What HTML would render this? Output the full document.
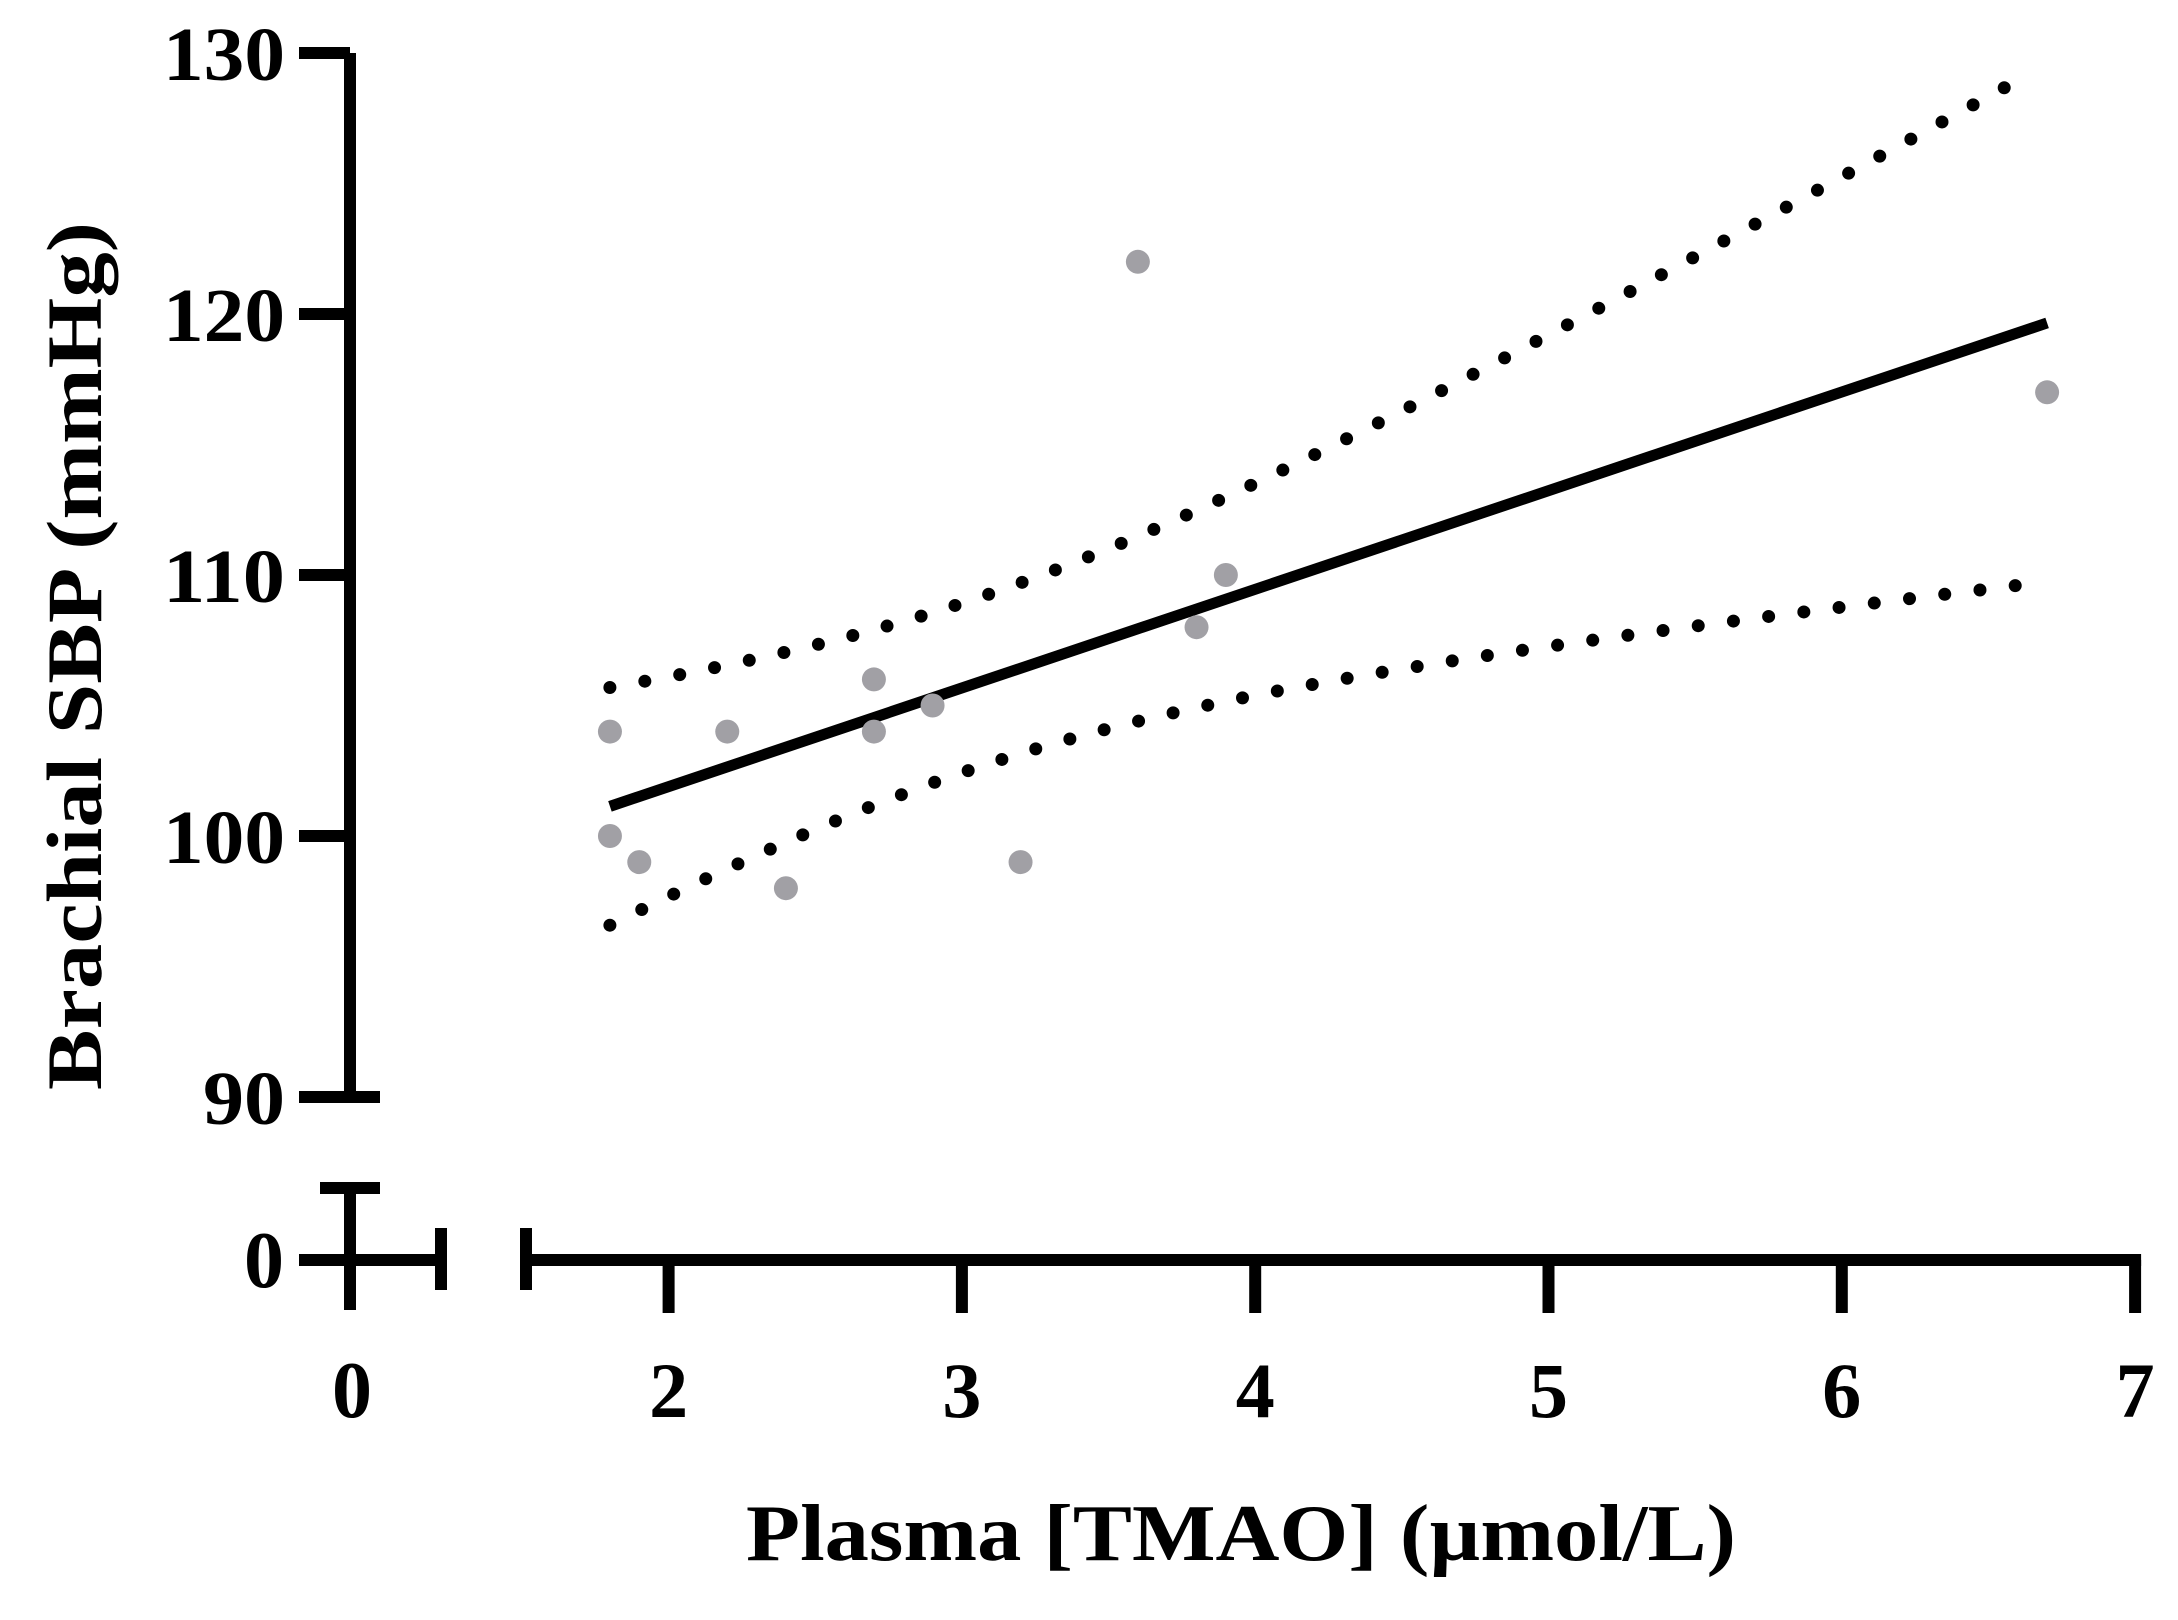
<!DOCTYPE html>
<html><head><meta charset="utf-8"><style>
html,body{margin:0;padding:0;background:#fff;}
svg{display:block;}
text{font-family:"Liberation Serif",serif;font-weight:bold;fill:#000;}
</style></head>
<body>
<svg id="chart" width="2178" height="1620" viewBox="0 0 2178 1620" xmlns="http://www.w3.org/2000/svg">
<g id="axes"></g>
<g id="bands"></g>
<g id="fit"></g>
<g id="pts"></g>
<text transform="translate(101,656) rotate(-90)" text-anchor="middle" font-size="78" textLength="868" lengthAdjust="spacingAndGlyphs">Brachial SBP (mmHg)</text>
<text x="1241" y="1560" text-anchor="middle" font-size="80" textLength="990" lengthAdjust="spacingAndGlyphs">Plasma [TMAO] (µmol/L)</text>
</svg>
<script>
const xValues = [1.8, 1.8, 1.9, 2.2, 2.4, 2.7, 2.7, 2.9, 3.2, 3.6, 3.8, 3.9, 6.7];
const yValues = [104, 100, 99, 104, 98, 106, 104, 105, 99, 122, 108, 110, 117];
const yTicks = [90, 100, 110, 120, 130];
const xTicks = [2, 3, 4, 5, 6, 7];
const fitRange = [1.8, 6.7];
const bandRange = [1.8, 6.6];
const tCrit = 2.201;

const NS = "http://www.w3.org/2000/svg";
function X(v){ return 668.6 + (v - 2) * 293.3; }
function Y(v){ return 836 - (v - 100) * 26.1; }
function mk(tag, attrs, parent){
  const e = document.createElementNS(NS, tag);
  for (const k in attrs) e.setAttribute(k, attrs[k]);
  parent.appendChild(e); return e;
}
const axes = document.getElementById('axes');
const S = {stroke:'#000','stroke-width':12,fill:'none'};
let e = mk('line', Object.assign({x1:350,y1:53,x2:350,y2:Y(90)}, S), axes);
 
yTicks.forEach(v => {
  const t = mk('line', Object.assign({x1:299, y1:Y(v), x2: v===90?380:350, y2:Y(v)}, S), axes);
   
  const attrs = {x:285, y:Y(v)+27, 'text-anchor':'end', 'font-size':76};
  if (String(v).length === 3) { attrs.textLength = 122; attrs.lengthAdjust = 'spacingAndGlyphs'; }
  else { attrs.textLength = 82; attrs.lengthAdjust = 'spacingAndGlyphs'; }
  const l = mk('text', attrs, axes);
  l.textContent = v;
   
});
e = mk('line', Object.assign({x1:320,y1:1188,x2:380,y2:1188}, S), axes);
 
e = mk('line', Object.assign({x1:350,y1:1188,x2:350,y2:1310}, S), axes);
 
e = mk('line', Object.assign({x1:299,y1:1260,x2:441,y2:1260}, S), axes);
 
e = mk('line', Object.assign({x1:441,y1:1228,x2:441,y2:1290}, S), axes);
 
e = mk('line', Object.assign({x1:526,y1:1228,x2:526,y2:1290}, S), axes);
 
e = mk('line', Object.assign({x1:526,y1:1260,x2:X(7)+6,y2:1260}, S), axes);
 
let z = mk('text', {x:284, y:1287, 'text-anchor':'end', 'font-size':80}, axes);
z.textContent = '0';
 
z = mk('text', {x:352, y:1417, 'text-anchor':'middle', 'font-size':80}, axes);
z.textContent = '0';
 
xTicks.forEach(v => {
  const t = mk('line', Object.assign({x1:X(v), y1:1260, x2:X(v), y2:1313}, S), axes);
   
  const l = mk('text', {x:X(v), y:1417, 'text-anchor':'middle', 'font-size':78}, axes);
  l.textContent = v;
   
});
const n = xValues.length;
const mx = xValues.reduce((a,b)=>a+b,0)/n, my = yValues.reduce((a,b)=>a+b,0)/n;
let sxx=0, sxy=0;
for (let i=0;i<n;i++){ sxx += (xValues[i]-mx)**2; sxy += (xValues[i]-mx)*(yValues[i]-my); }
const b = sxy/sxx, a = my - b*mx;
let sse=0; for (let i=0;i<n;i++){ sse += (yValues[i]-a-b*xValues[i])**2; }
const s = Math.sqrt(sse/(n-2));
const fit = document.getElementById('fit');
const fl = mk('line', {x1:X(fitRange[0]), y1:Y(a+b*fitRange[0]), x2:X(fitRange[1]), y2:Y(a+b*fitRange[1]), stroke:'#000','stroke-width':11}, fit);
 
const bands = document.getElementById('bands');
[1,-1].forEach(sign => {
  let d='';
  for (let k=0;k<=60;k++){
    const xv = bandRange[0] + (bandRange[1]-bandRange[0])*k/60;
    const hw = tCrit*s*Math.sqrt(1/n + (xv-mx)**2/sxx);
    const yv = a + b*xv + sign*hw;
    d += (k?'L':'M') + X(xv).toFixed(1) + ',' + Y(yv).toFixed(1);
  }
  const p = mk('path', {d:d, stroke:'#000', 'stroke-width':13, fill:'none', 'stroke-linecap':'round', 'stroke-dasharray':'0 35.5'}, bands);
  
  
});
const pts = document.getElementById('pts');
for (let i=0;i<n;i++){
  const c = mk('circle', {cx:X(xValues[i]), cy:Y(yValues[i]), r:12, fill:'#a1a0a5'}, pts);
  
  
}
</script>
</body></html>
